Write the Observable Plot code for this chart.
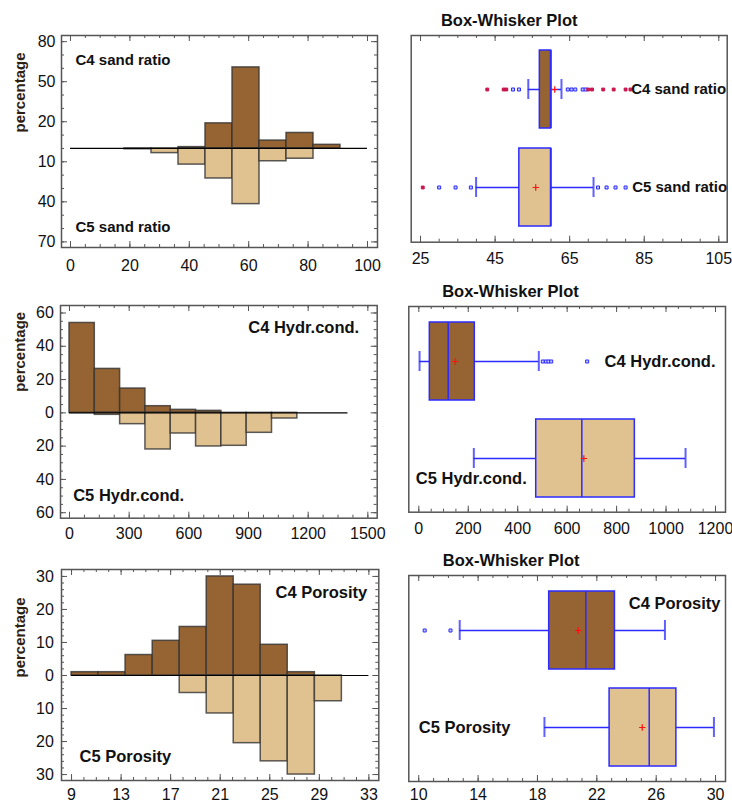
<!DOCTYPE html>
<html><head><meta charset="utf-8">
<script src="https://cdn.jsdelivr.net/npm/d3@7"></script>
<script src="https://cdn.jsdelivr.net/npm/@observablehq/plot@0.6"></script>
<style>
html,body{margin:0;padding:0;background:#fff;}
#root{position:relative;width:732px;height:803px;overflow:hidden;font-family:'Liberation Sans',Arial,sans-serif;}
#root svg{position:absolute;}
</style></head><body><div id="root"></div>
<script>
// ---------- Histogram data (percent per bin) ----------
const sandEdges = [0, 9.09, 18.18, 27.27, 36.36, 45.45, 54.55, 63.64, 72.73, 81.82, 90.91, 100];
const sandC4 = [0, 0, 0, 0, 1.0, 18.8, 60.7, 5.9, 11.6, 2.7, 0];
const sandC5 = [0, 0, 0.6, 3.5, 12.1, 22.5, 41.7, 9.6, 7.7, 0, 0];

const hydrEdges = [0, 127.27, 254.55, 381.82, 509.09, 636.36, 763.64, 890.91, 1018.18, 1145.45, 1272.73, 1400];
const hydrC4 = [54, 26.4, 14.6, 4.0, 1.8, 1.2, 0, 0, 0, 0, 0];
const hydrC5 = [0, 1.2, 6.8, 22, 12.4, 20.2, 19.8, 12, 3.4, 0, 0];

const porEdges = [9, 11.18, 13.36, 15.55, 17.73, 19.91, 22.09, 24.27, 26.45, 28.64, 30.82, 33];
const porC4 = [1.0, 1.0, 6.2, 10.5, 14.7, 30, 27.5, 9.3, 1.0, 0, 0];
const porC5 = [0, 0, 0, 0, 5.3, 11.5, 20.5, 26, 30, 7.8, 0];

// ---------- Box-whisker data ----------
const sandBoxC4 = {lo: 53.9, q1: 57.0, med: 60.0, q3: 60.0, hi: 62.8, mean: 61.0};
const sandBoxC5 = {lo: 39.9, q1: 51.5, med: 60.0, q3: 60.0, hi: 71.4, mean: 55.9};
const sandOutC4 = [49.8, 51.4, 64.5, 65.5, 66.5, 68.5, 69.3];
const sandFarC4 = [42.9, 47.3, 48.0, 70.0, 71.0, 74.0, 76.8, 80.0, 81.3];
const sandOutC5 = [30, 34.4, 38.5, 72.6, 74.9, 77.3, 80];
const sandFarC5 = [25.6];

const hydrBoxC4 = {lo: 3, q1: 44.5, med: 118.9, q3: 226.5, hi: 485.4, mean: 147};
const hydrBoxC5 = {lo: 222.5, q1: 474.9, med: 659.4, q3: 873.8, hi: 1078.9, mean: 667.5};
const hydrOutC4 = [501.6, 513.8, 524.6, 535.6, 681];

const porBoxC4 = {lo: 12.76, q1: 18.79, med: 21.26, q3: 23.22, hi: 26.59, mean: 20.75};
const porBoxC5 = {lo: 18.47, q1: 22.86, med: 25.53, q3: 27.36, hi: 29.89, mean: 25.06};
const porOutC4 = [10.4, 12.14];

// ---------- Tick labels ----------
const sandXTicks = [0, 20, 40, 60, 80, 100];
const sandYTicks = [80, 50, 20, -10, -40, -70];
const hydrXTicks = [0, 300, 600, 900, 1200, 1500];
const hydrYTicks = [60, 40, 20, 0, -20, -40, -60];
const porXTicks = [9, 13, 17, 21, 25, 29, 33];
const porYTicks = [30, 20, 10, 0, -10, -20, -30];
const sandBoxTicks = [25, 45, 65, 85, 105];
const hydrBoxTicks = [0, 200, 400, 600, 800, 1000, 1200];
const porBoxTicks = [10, 14, 18, 22, 26, 30];

const DARK = "#966432", LIGHT = "#E0C190", BLUE = "#2b2bff", FRAME = "#555";
const FONT = "'Liberation Sans', Arial, sans-serif";
const root = document.getElementById("root");
const plain = d => String(d);

function inside(vals, dom) {
  const lo = Math.min(...dom), hi = Math.max(...dom);
  return vals.filter(v => v >= lo && v <= hi);
}
function xTickMarks(major, minor, dom, ph) {
  const out = [];
  for (const [vals, len] of [[inside(minor, dom), 3], [inside(major, dom), 6]]) {
    out.push(Plot.tickX(vals, {x: d => d, insetTop: ph - len, stroke: FRAME, strokeWidth: 1}));
    out.push(Plot.tickX(vals, {x: d => d, insetBottom: ph - len, stroke: FRAME, strokeWidth: 1}));
  }
  return out;
}
function yTickMarks(major, minor, dom, pw) {
  const out = [];
  for (const [vals, len] of [[inside(minor, dom), 3], [inside(major, dom), 6]]) {
    out.push(Plot.tickY(vals, {y: d => d, insetRight: pw - len, stroke: FRAME, strokeWidth: 1}));
    out.push(Plot.tickY(vals, {y: d => d, insetLeft: pw - len, stroke: FRAME, strokeWidth: 1}));
  }
  return out;
}
function place(svg, left, top) {
  svg.style.left = left + "px";
  svg.style.top = top + "px";
  root.appendChild(svg);
}
function label(l, extra) {
  return Plot.text([l.text], {frameAnchor: l.anchor, textAnchor: l.textAnchor, lineAnchor: "middle",
    dx: l.dx, dy: l.dy, fontWeight: "bold", fontSize: l.size, fill: "#111", ...extra});
}

function hist(c) {
  const bins = c.up.map((v, i) => ({x1: c.edges[i], x2: c.edges[i + 1], up: v, down: c.down[i]}));
  const pw = c.width - c.ml - c.mr, ph = c.height - c.mt - c.mb;
  const barStyle = {stroke: "#333", strokeOpacity: 0.8, strokeWidth: 1.5};
  const svg = Plot.plot({
    width: c.width, height: c.height,
    marginLeft: c.ml, marginRight: c.mr, marginTop: c.mt, marginBottom: c.mb,
    style: {fontFamily: FONT, fontSize: "16px", color: "#111", background: "transparent", overflow: "visible"},
    x: {domain: c.xDomain, ticks: c.xTicks, tickSize: 0, tickPadding: c.xPad, tickFormat: plain, label: null},
    y: {domain: c.yDomain, ticks: c.yTicks, tickSize: 0, tickPadding: c.yPad, tickFormat: d => String(Math.abs(d)), label: null},
    marks: [
      Plot.rect(bins.filter(d => d.up > 0), {x1: "x1", x2: "x2", y1: 0, y2: "up", fill: DARK, ...barStyle}),
      Plot.rect(bins.filter(d => d.down > 0), {x1: "x1", x2: "x2", y1: 0, y2: d => -d.down, fill: LIGHT, ...barStyle}),
      Plot.ruleY([0], {x1: c.edges[0], x2: c.edges[c.edges.length - 1], stroke: "#000", strokeWidth: 1.2}),
      ...xTickMarks(c.xTicks, c.xMinor, c.xDomain, ph),
      ...yTickMarks(c.yTicks, c.yMinor, c.yDomain, pw),
      Plot.frame({stroke: FRAME, strokeWidth: 1.5}),
      label(c.labelUp),
      label(c.labelDown),
      Plot.text(["percentage"], {frameAnchor: "left", lineAnchor: "middle", dx: c.pctDx, dy: c.pctDy, rotate: -90, fontWeight: "bold", fontSize: 15, fill: "#2e2010"})
    ]
  });
  place(svg, c.left, c.top);
}

function box(c) {
  const stats = [{name: "C4", ...c.c4}, {name: "C5", ...c.c5}];
  const outs = [...c.outC4.map(v => ({name: "C4", v})), ...(c.outC5 || []).map(v => ({name: "C5", v}))];
  const fars = [...(c.farC4 || []).map(v => ({name: "C4", v})), ...(c.farC5 || []).map(v => ({name: "C5", v}))];
  const ph = c.height - c.mt - c.mb;
  const capInset = 29;
  const svg = Plot.plot({
    width: c.width, height: c.height,
    marginLeft: c.ml, marginRight: c.mr, marginTop: c.mt, marginBottom: c.mb,
    style: {fontFamily: FONT, fontSize: "16px", color: "#111", background: "transparent", overflow: "visible"},
    x: {domain: c.xDomain, ticks: c.xTicks, tickSize: 0, tickPadding: c.xPad, tickFormat: plain, label: null},
    y: {type: "band", domain: ["C4", "C5"], paddingInner: 0.2, paddingOuter: 0.153, axis: null},
    marks: [
      Plot.ruleY(stats, {y: "name", x1: "lo", x2: "hi", stroke: BLUE, strokeWidth: 1.3}),
      Plot.tickX(stats, {x: "lo", y: "name", insetTop: capInset, insetBottom: capInset, stroke: BLUE, strokeOpacity: 0.75, strokeWidth: 2}),
      Plot.tickX(stats, {x: "hi", y: "name", insetTop: capInset, insetBottom: capInset, stroke: BLUE, strokeOpacity: 0.75, strokeWidth: 2}),
      Plot.barX(stats.filter(d => d.name === "C4"), {x1: "q1", x2: "q3", y: "name", fill: DARK, stroke: BLUE, strokeWidth: 1.5}),
      Plot.barX(stats.filter(d => d.name === "C5"), {x1: "q1", x2: "q3", y: "name", fill: LIGHT, stroke: BLUE, strokeWidth: 1.5}),
      Plot.tickX(stats, {x: "med", y: "name", stroke: BLUE, strokeWidth: 1.5}),
      Plot.dot(stats, {x: "mean", y: "name", symbol: "plus", r: 2.2, stroke: "#ff1010", strokeWidth: 1.2}),
      Plot.dot(outs, {x: "v", y: "name", symbol: "square", r: 1.7, stroke: BLUE, fill: "#c8c8ff", strokeWidth: 1}),
      Plot.dot(fars, {x: "v", y: "name", symbol: "square", r: 1.6, stroke: "#c4124a", fill: "#d4144e", strokeWidth: 1}),
      ...xTickMarks(c.xTicks, c.xMinor, c.xDomain, ph),
      Plot.frame({stroke: FRAME, strokeWidth: 1.5}),
      Plot.text(["Box-Whisker Plot"], {frameAnchor: "top", lineAnchor: "middle", dx: c.titleDx, dy: c.titleDy, fontWeight: "bold", fontSize: 16.5, fill: "#111"}),
      Plot.text([{name: "C4", t: c.lab4.text}], {y: "name", text: "t", frameAnchor: c.lab4.anchor, textAnchor: c.lab4.textAnchor, lineAnchor: "middle", dx: c.lab4.dx, dy: c.lab4.dy, fontWeight: "bold", fontSize: c.lab4.size, fill: "#111"}),
      Plot.text([{name: "C5", t: c.lab5.text}], {y: "name", text: "t", frameAnchor: c.lab5.anchor, textAnchor: c.lab5.textAnchor, lineAnchor: "middle", dx: c.lab5.dx, dy: c.lab5.dy, fontWeight: "bold", fontSize: c.lab5.size, fill: "#111"})
    ]
  });
  place(svg, c.left, c.top);
}

// ----- Left column: histograms -----
hist({left: 0, top: 20, width: 385, height: 265, ml: 61, mr: 8, mt: 15, mb: 38,
  xDomain: [-3.03, 103.37], yDomain: [-74.2, 84.6],
  edges: sandEdges, up: sandC4, down: sandC5,
  xTicks: sandXTicks, xMinor: d3.range(0, 101, 5), yTicks: sandYTicks, yMinor: d3.range(-70, 81, 10),
  xPad: 12, yPad: 6,
  labelUp: {text: "C4 sand ratio", anchor: "top-left", textAnchor: "start", dx: 14, dy: 25, size: 15},
  labelDown: {text: "C5 sand ratio", anchor: "bottom-left", textAnchor: "start", dx: 14, dy: -20, size: 15},
  pctDx: -41, pctDy: -9});

hist({left: 0, top: 290, width: 385, height: 265, ml: 60, mr: 8.3, mt: 15, mb: 37.3,
  xDomain: [-45.2, 1547], yDomain: [-63.3, 64.5],
  edges: hydrEdges, up: hydrC4, down: hydrC5,
  xTicks: hydrXTicks, xMinor: d3.range(0, 1501, 75), yTicks: hydrYTicks, yMinor: d3.range(-60, 61, 5),
  xPad: 9, yPad: 6.7,
  labelUp: {text: "C4 Hydr.cond.", anchor: "top-right", textAnchor: "end", dx: -18, dy: 22.7, size: 16.5},
  labelDown: {text: "C5 Hydr.cond.", anchor: "bottom-left", textAnchor: "start", dx: 12.7, dy: -22, size: 16.5},
  pctDx: -40, pctDy: -20});

hist({left: 0, top: 550, width: 385, height: 253, ml: 61, mr: 6.7, mt: 19, mb: 23,
  xDomain: [8.19, 33.8], yDomain: [-31.8, 32.1],
  edges: porEdges, up: porC4, down: porC5,
  xTicks: porXTicks, xMinor: d3.range(9, 34, 1), yTicks: porYTicks, yMinor: d3.range(-30, 31, 2),
  xPad: 8, yPad: 7.7,
  labelUp: {text: "C4 Porosity", anchor: "top-right", textAnchor: "end", dx: -11.6, dy: 23.7, size: 16.5},
  labelDown: {text: "C5 Porosity", anchor: "bottom-left", textAnchor: "start", dx: 18, dy: -23.3, size: 16.5},
  pctDx: -41, pctDy: 2.5});

// ----- Right column: box-whisker plots -----
box({left: 390, top: 0, width: 342, height: 280, ml: 20.7, mr: 5.3, mt: 35, mb: 38.3,
  xDomain: [22.5, 107.25], xTicks: sandBoxTicks, xMinor: d3.range(25, 106, 5), xPad: 10,
  c4: sandBoxC4, c5: sandBoxC5, outC4: sandOutC4, farC4: sandFarC4, outC5: sandOutC5, farC5: sandFarC5,
  titleDx: -60, titleDy: -15,
  lab4: {text: "C4 sand ratio", anchor: "right", textAnchor: "end", dx: -1, dy: 0, size: 15},
  lab5: {text: "C5 sand ratio", anchor: "right", textAnchor: "end", dx: 0, dy: 0, size: 15}});

box({left: 390, top: 280, width: 342, height: 270, ml: 18.3, mr: 7, mt: 26, mb: 38.3,
  xDomain: [-40.5, 1240.5], xTicks: hydrBoxTicks, xMinor: d3.range(0, 1201, 50), xPad: 10,
  c4: hydrBoxC4, c5: hydrBoxC5, outC4: hydrOutC4,
  titleDx: -56.7, titleDy: -14.3,
  lab4: {text: "C4 Hydr.cond.", anchor: "right", textAnchor: "end", dx: -10, dy: 0, size: 16.5},
  lab5: {text: "C5 Hydr.cond.", anchor: "left", textAnchor: "start", dx: 7, dy: 20, size: 16.5}});

box({left: 390, top: 550, width: 342, height: 253, ml: 18.3, mr: 7, mt: 25, mb: 22,
  xDomain: [9.33, 30.67], xTicks: porBoxTicks, xMinor: d3.range(10, 31, 1), xPad: 7,
  c4: porBoxC4, c5: porBoxC5, outC4: porOutC4,
  titleDx: -56, titleDy: -14.3,
  lab4: {text: "C4 Porosity", anchor: "right", textAnchor: "end", dx: -5, dy: -27, size: 16.5},
  lab5: {text: "C5 Porosity", anchor: "left", textAnchor: "start", dx: 10, dy: 0, size: 16.5}});
</script>
</body></html>
